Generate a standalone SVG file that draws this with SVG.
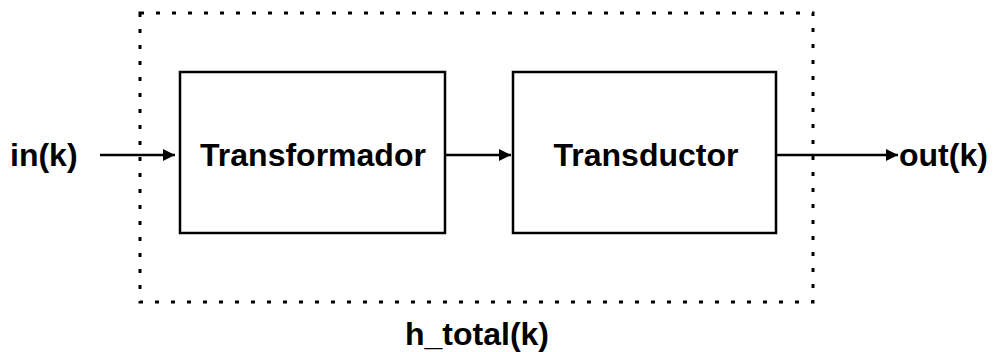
<svg xmlns="http://www.w3.org/2000/svg" width="994" height="352" viewBox="0 0 994 352">
  <style>
    .lbl { font-family: "Liberation Sans", Arial, Helvetica, sans-serif; font-weight: bold; font-size: 32px; fill: #000; }
    .box { fill: #fff; stroke: #000; stroke-width: 2.5; }
    .wire { stroke: #000; stroke-width: 2.5; fill: none; }
    .frame { fill: none; stroke: #000; stroke-width: 3; stroke-dasharray: 4 12; }
  </style>
  <defs>
    <marker id="arrow" markerUnits="userSpaceOnUse" markerWidth="14" markerHeight="14" refX="12" refY="6" orient="auto">
      <path d="M0,0 L12,6 L0,12 Z" fill="#000"/>
    </marker>
  </defs>
  <rect width="994" height="352" fill="#fff"/>

  <!-- dotted system boundary -->
  <g id="system">
    <rect class="frame" x="140" y="13" width="673" height="289"/>
    <text class="lbl" x="477" y="345" text-anchor="middle">h_total(k)</text>
  </g>

  <g id="transformador">
    <rect class="box" x="180" y="72" width="265" height="161"/>
    <text class="lbl" x="313" y="166" text-anchor="middle">Transformador</text>
  </g>

  <g id="transductor">
    <rect class="box" x="513" y="72" width="263" height="161"/>
    <text class="lbl" x="646" y="166" text-anchor="middle">Transductor</text>
  </g>

  <g id="input">
    <text class="lbl" x="10" y="166">in(k)</text>
  </g>

  <g id="output">
    <text class="lbl" x="899" y="166">out(k)</text>
  </g>

  <g id="connectors">
    <line class="wire" x1="100" y1="155" x2="175" y2="155" marker-end="url(#arrow)"/>
    <line class="wire" x1="445" y1="155" x2="511" y2="155" marker-end="url(#arrow)"/>
    <line class="wire" x1="776" y1="155" x2="898" y2="155" marker-end="url(#arrow)"/>
  </g>
</svg>
